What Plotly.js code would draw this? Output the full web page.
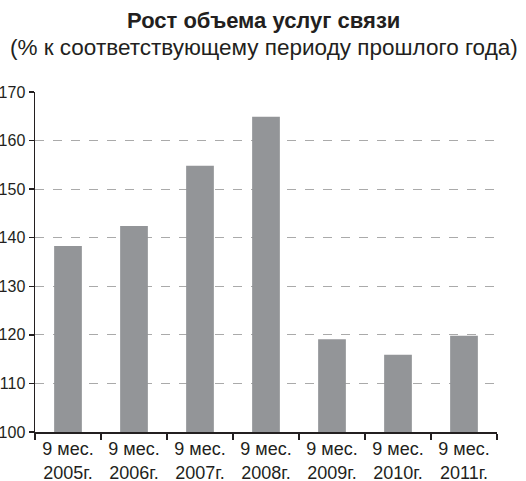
<!DOCTYPE html>
<html><head><meta charset="utf-8">
<script src="https://cdn.plot.ly/plotly-3.0.1.min.js"></script>
<style>html,body{margin:0;padding:0;background:#fff;}</style>
</head><body>
<div id="chart" style="width:526px;height:481px;"></div>
<script>
const categories = ["9 мес.<br>2005г.", "9 мес.<br>2006г.", "9 мес.<br>2007г.", "9 мес.<br>2008г.", "9 мес.<br>2009г.", "9 мес.<br>2010г.", "9 мес.<br>2011г."];
const values = [138.3, 142.4, 154.8, 164.9, 119.1, 115.9, 119.8];
const yTicks = [100, 110, 120, 130, 140, 150, 160, 170];

const trace = {
  type: 'bar', x: categories, y: values,
  marker: {color: '#939598'}, hoverinfo: 'skip'
};
const layout = {
  width: 526, height: 481,
  margin: {l: 35, r: 29, t: 92, b: 49},
  paper_bgcolor: '#fff', plot_bgcolor: '#fff',
  bargap: 0.58,
  showlegend: false,
  font: {family: 'Liberation Sans, Arial, sans-serif', color: '#231f20', size: 16},
  annotations: [
    {text: '<b>Рост объема услуг связи</b>', xref: 'paper', yref: 'paper', x: 0.495, y: 1, yshift: 72, xanchor: 'center', yanchor: 'middle', showarrow: false, font: {size: 22, color: '#231f20'}},
    {text: '(% к соответствующему периоду прошлого года)', xref: 'paper', yref: 'paper', x: 0.495, y: 1, yshift: 45, xanchor: 'center', yanchor: 'middle', showarrow: false, font: {size: 22.5, color: '#231f20'}}
  ],
  xaxis: {
    type: 'category', showline: true, linecolor: '#231f20', linewidth: 1.5,
    ticks: 'outside', tickson: 'boundaries', ticklen: 6, tickcolor: '#231f20', tickwidth: 1.5,
    showgrid: false, zeroline: false, fixedrange: true,
    tickfont: {size: 18}
  },
  yaxis: {
    range: [100, 170], tickvals: yTicks, ticktext: yTicks.map(String),
    showline: true, linecolor: '#231f20', linewidth: 1.5,
    ticks: 'outside', ticklen: 5, tickcolor: '#231f20', tickwidth: 1.5,
    showgrid: true, gridcolor: '#aaaaaa', griddash: 'dash', gridwidth: 1,
    zeroline: false, tickfont: {size: 16}, ticklabelstandoff: 0
  }
};
Plotly.newPlot('chart', [trace], layout, {staticPlot: true});
</script>
</body></html>
